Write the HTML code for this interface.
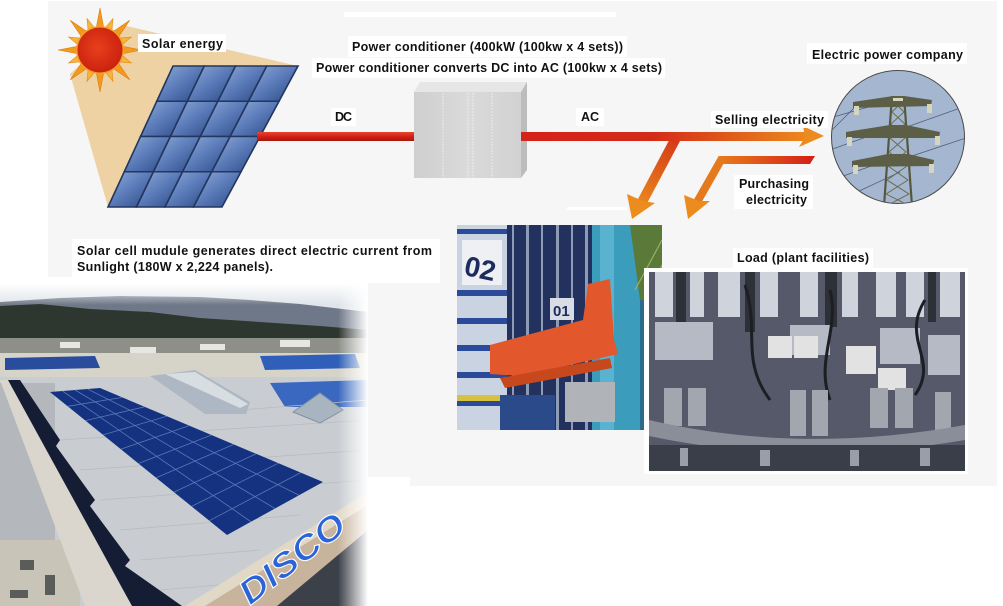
<!DOCTYPE html>
<html><head><meta charset="utf-8"><style>
html,body{margin:0;padding:0;background:#fff;width:1003px;height:606px;overflow:hidden}
svg{display:block}
.t{font-family:"Liberation Sans",Arial,sans-serif;font-weight:bold;font-size:12.5px;fill:#111}
</style></head><body>
<svg width="1003" height="606" viewBox="0 0 1003 606" xmlns="http://www.w3.org/2000/svg">
<defs>
<linearGradient id="dcg" x1="0" y1="0" x2="0" y2="1"><stop offset="0" stop-color="#e8452e"/><stop offset="0.5" stop-color="#d22216"/><stop offset="1" stop-color="#a8160c"/></linearGradient>
<linearGradient id="acg" gradientUnits="userSpaceOnUse" x1="521" y1="0" x2="810" y2="0"><stop offset="0" stop-color="#d42318"/><stop offset="0.45" stop-color="#d42a18"/><stop offset="0.75" stop-color="#e0601a"/><stop offset="1" stop-color="#ec8a1e"/></linearGradient>
<linearGradient id="b1g" gradientUnits="userSpaceOnUse" x1="677" y1="140" x2="640" y2="210"><stop offset="0" stop-color="#d43a18"/><stop offset="1" stop-color="#ec8c1e"/></linearGradient>
<linearGradient id="b2g" gradientUnits="userSpaceOnUse" x1="812" y1="0" x2="700" y2="0"><stop offset="0" stop-color="#d42018"/><stop offset="0.6" stop-color="#e2641a"/><stop offset="1" stop-color="#ec8a1e"/></linearGradient>
<linearGradient id="cell" x1="0" y1="0" x2="1" y2="1"><stop offset="0" stop-color="#93acd8"/><stop offset="0.45" stop-color="#5e7fbc"/><stop offset="1" stop-color="#2a4685"/></linearGradient>
<radialGradient id="sun" cx="0.45" cy="0.45" r="0.6"><stop offset="0" stop-color="#e8401c"/><stop offset="1" stop-color="#c8200e"/></radialGradient>
<linearGradient id="boxg" x1="0" y1="0" x2="1" y2="0"><stop offset="0" stop-color="#cfcfcf"/><stop offset="0.5" stop-color="#dadada"/><stop offset="1" stop-color="#d2d2d2"/></linearGradient>
<linearGradient id="fadeT" x1="0" y1="0" x2="0" y2="1"><stop offset="0" stop-color="#fff" stop-opacity="1"/><stop offset="1" stop-color="#fff" stop-opacity="0"/></linearGradient>
<linearGradient id="fadeR" x1="0" y1="0" x2="1" y2="0"><stop offset="0" stop-color="#fff" stop-opacity="0"/><stop offset="1" stop-color="#fff" stop-opacity="1"/></linearGradient>
<clipPath id="roofclip"><rect x="0" y="283" width="368" height="323"/></clipPath>
<clipPath id="whclip"><rect x="457" y="225" width="205" height="205"/></clipPath>
<clipPath id="mcclip"><rect x="649" y="272" width="316" height="199"/></clipPath>
<clipPath id="circ"><circle cx="898" cy="137" r="66"/></clipPath>
</defs>

<!-- backgrounds -->
<rect x="0" y="0" width="1003" height="606" fill="#fff"/>
<rect x="48" y="1" width="949" height="485" fill="#f6f6f6"/>
<rect x="0" y="277" width="410" height="329" fill="#fff"/>
<rect x="368" y="283" width="42" height="194" fill="#f6f6f6"/>
<rect x="72" y="239" width="368" height="44" fill="#fff"/>
<rect x="344" y="12" width="272" height="5" fill="#fff"/>
<rect x="567" y="207" width="60" height="3" fill="#fff"/>

<!-- beige light cone -->
<polygon points="122,25 298,66 108,207 70,74" fill="#eed2a4"/>

<!-- solar panel -->
<polygon points="173,66 298,66 222,207 108,207" fill="#22365e"/>
<g fill="url(#cell)" stroke="#22365e" stroke-width="1.6">
<polygon points="173,66 204.25,66 187.31,101.25 156.75,101.25"/>
<polygon points="204.25,66 235.5,66 217.88,101.25 187.31,101.25"/>
<polygon points="235.5,66 266.75,66 248.44,101.25 217.88,101.25"/>
<polygon points="266.75,66 298,66 279,101.25 248.44,101.25"/>
<polygon points="156.75,101.25 187.31,101.25 170.38,136.5 140.5,136.5"/>
<polygon points="187.31,101.25 217.88,101.25 200.25,136.5 170.38,136.5"/>
<polygon points="217.88,101.25 248.44,101.25 230.13,136.5 200.25,136.5"/>
<polygon points="248.44,101.25 279,101.25 260,136.5 230.13,136.5"/>
<polygon points="140.5,136.5 170.38,136.5 153.44,171.75 124.25,171.75"/>
<polygon points="170.38,136.5 200.25,136.5 182.63,171.75 153.44,171.75"/>
<polygon points="200.25,136.5 230.13,136.5 211.81,171.75 182.63,171.75"/>
<polygon points="230.13,136.5 260,136.5 241,171.75 211.81,171.75"/>
<polygon points="124.25,171.75 153.44,171.75 136.5,207 108,207"/>
<polygon points="153.44,171.75 182.63,171.75 165,207 136.5,207"/>
<polygon points="182.63,171.75 211.81,171.75 193.5,207 165,207"/>
<polygon points="211.81,171.75 241,171.75 222,207 193.5,207"/>
</g>

<!-- sun -->
<g transform="translate(100,50)">
<g fill="#f29a1e" stroke="#e07a10" stroke-width="0.6">
<polygon points="-4,-21 0,-42 4,-21"/>
<polygon points="-4,-21 0,-42 4,-21" transform="rotate(45)"/>
<polygon points="-4,-21 0,-42 4,-21" transform="rotate(90)"/>
<polygon points="-4,-21 0,-42 4,-21" transform="rotate(135)"/>
<polygon points="-4,-21 0,-42 4,-21" transform="rotate(180)"/>
<polygon points="-4,-21 0,-42 4,-21" transform="rotate(225)"/>
<polygon points="-4,-21 0,-42 4,-21" transform="rotate(270)"/>
<polygon points="-4,-21 0,-42 4,-21" transform="rotate(315)"/>
</g>
<g fill="#f5b43a" stroke="#e08a18" stroke-width="0.6">
<polygon points="-4,-21 0,-34 4,-21" transform="rotate(22.5)"/>
<polygon points="-4,-21 0,-34 4,-21" transform="rotate(67.5)"/>
<polygon points="-4,-21 0,-34 4,-21" transform="rotate(112.5)"/>
<polygon points="-4,-21 0,-34 4,-21" transform="rotate(157.5)"/>
<polygon points="-4,-21 0,-34 4,-21" transform="rotate(202.5)"/>
<polygon points="-4,-21 0,-34 4,-21" transform="rotate(247.5)"/>
<polygon points="-4,-21 0,-34 4,-21" transform="rotate(292.5)"/>
<polygon points="-4,-21 0,-34 4,-21" transform="rotate(337.5)"/>
</g>
<circle r="24" fill="#f3a028"/>
<circle r="22.5" fill="url(#sun)"/>
</g>

<!-- DC line -->
<rect x="257" y="132" width="158" height="9" fill="url(#dcg)"/>

<!-- power conditioner box -->
<polygon points="414,92 420,82 527,82 521,92" fill="#e6e6e6"/>
<polygon points="521,92 527,82 527,170 521,178" fill="#bcbcbc"/>
<rect x="414" y="92" width="107" height="86" fill="url(#boxg)"/>
<g stroke="#ececec" stroke-width="1" stroke-dasharray="2,1">
<line x1="443" y1="93" x2="443" y2="178"/><line x1="468" y1="93" x2="468" y2="178"/>
<line x1="473" y1="93" x2="473" y2="178"/><line x1="492" y1="93" x2="492" y2="178"/>
</g>

<!-- branches (drawn before main line) -->
<line x1="677" y1="136" x2="641" y2="204" stroke="url(#b1g)" stroke-width="10"/>
<polygon points="627,194 643,201 655,203 632,219" fill="#ec8c1e"/>
<polygon points="721,156 815,156 810,164 721,164" fill="url(#b2g)"/>
<polyline points="724,160 721,160 696,204" fill="none" stroke="#e47a1c" stroke-width="8" stroke-linejoin="miter"/>
<polygon points="684,195 699,201 710,201 688,219" fill="#ec8c1e"/>

<!-- AC main line -->
<rect x="521" y="132" width="286" height="9" fill="url(#acg)"/>
<polygon points="803,126 824,136 799,147 805,137" fill="#ec8c20"/>

<!-- power company circle -->
<circle cx="898" cy="137" r="66.5" fill="#a4b6d0" stroke="#4a4a4a" stroke-width="1"/>
<g clip-path="url(#circ)">
<g stroke="#4c5870" stroke-width="0.7">
<line x1="830" y1="118" x2="893" y2="100"/><line x1="830" y1="150" x2="886" y2="130"/>
<line x1="832" y1="180" x2="888" y2="160"/><line x1="840" y1="200" x2="900" y2="172"/>
<line x1="904" y1="128" x2="966" y2="106"/><line x1="906" y1="158" x2="966" y2="138"/>
<line x1="830" y1="132" x2="856" y2="106"/>
</g>
<g stroke="#55583e" stroke-width="2.2" fill="none">
<line x1="892" y1="96" x2="884" y2="206"/><line x1="904" y1="96" x2="912" y2="206"/>
</g>
<g stroke="#6a6c4e" stroke-width="1" fill="none">
<polyline points="892,100 904,112 891,124 905,138 889,152 907,166 887,180 909,194 886,206"/>
<polyline points="904,100 892,112 905,124 890,138 906,152 888,166 908,180 886,194 910,206"/>
</g>
<polygon points="853,102 893,96 904,96 932,100 931,106 853,108" fill="#5c5e46"/>
<polygon points="846,132 890,125 906,125 940,132 939,138 846,138" fill="#5c5e46"/>
<polygon points="852,161 888,154 908,154 934,160 933,166 852,167" fill="#5c5e46"/>
<g fill="#d6d6be">
<rect x="854" y="106" width="5" height="9"/><rect x="927" y="104" width="5" height="9"/>
<rect x="847" y="137" width="5" height="9"/><rect x="935" y="136" width="5" height="9"/>
<rect x="853" y="165" width="5" height="9"/><rect x="929" y="164" width="5" height="9"/>
<rect x="893" y="98" width="10" height="3"/>
</g>
</g>

<!-- warehouse photo -->
<g clip-path="url(#whclip)">
<rect x="457" y="225" width="205" height="205" fill="#22315e"/>
<rect x="457" y="225" width="50" height="205" fill="#c9d3e2"/>
<g fill="#2b4a9a">
<rect x="457" y="229" width="50" height="5"/><rect x="457" y="290" width="50" height="6"/>
<rect x="457" y="318" width="50" height="6"/><rect x="457" y="345" width="50" height="6"/>
<rect x="457" y="372" width="50" height="6"/><rect x="457" y="400" width="50" height="6"/>
</g>
<rect x="462" y="240" width="40" height="45" fill="#eef0f4"/>
<text x="466" y="278" font-family="Liberation Sans,Arial,sans-serif" font-weight="bold" font-size="28" fill="#1c2c5c" transform="rotate(12 480 262)">02</text>
<rect x="457" y="395" width="45" height="6" fill="#d8c040"/>
<g fill="#8d9cb4">
<rect x="512" y="225" width="2" height="205"/><rect x="526" y="225" width="3" height="205"/>
<rect x="541" y="225" width="2" height="205"/><rect x="556" y="225" width="3" height="205"/>
<rect x="571" y="225" width="2" height="205"/><rect x="585" y="225" width="3" height="205"/>
</g>
<rect x="550" y="298" width="24" height="22" fill="#d8dce4"/>
<text x="553" y="316" font-family="Liberation Sans,Arial,sans-serif" font-weight="bold" font-size="15" fill="#1c2c5c">01</text>
<rect x="592" y="225" width="48" height="205" fill="#3c9cbc"/>
<rect x="600" y="225" width="14" height="205" fill="#58b2d0"/>
<polygon points="630,225 662,225 662,300 640,300" fill="#5a7a3a"/>
<g stroke="#9ab060" stroke-width="1.2"><line x1="635" y1="290" x2="662" y2="240"/><line x1="645" y1="300" x2="662" y2="265"/></g>
<rect x="640" y="300" width="22" height="130" fill="#2a6c8c"/>
<polygon points="490,345 583,320 588,284 610,279 614,340 618,354 522,376 490,374" fill="#e2582c"/>
<polygon points="500,378 610,358 612,368 505,388" fill="#c8481e"/>
<rect x="565" y="382" width="50" height="40" fill="#b0b4b8"/>
<rect x="500" y="395" width="55" height="35" fill="#2a4a8a"/>
</g>

<!-- machine photo -->
<rect x="644" y="268" width="324" height="206" fill="#fff"/>
<g clip-path="url(#mcclip)">
<rect x="649" y="272" width="316" height="199" fill="#55596a"/>
<g fill="#cfd3dc">
<rect x="655" y="272" width="18" height="45"/><rect x="690" y="272" width="14" height="45"/>
<rect x="718" y="272" width="22" height="45"/><rect x="760" y="272" width="18" height="45"/>
<rect x="800" y="272" width="18" height="45"/><rect x="842" y="272" width="16" height="45"/>
<rect x="876" y="272" width="20" height="45"/><rect x="906" y="272" width="18" height="45"/>
<rect x="940" y="272" width="20" height="45"/>
</g>
<g fill="#2e3038">
<rect x="676" y="272" width="10" height="50"/><rect x="745" y="272" width="10" height="60"/>
<rect x="825" y="272" width="12" height="55"/><rect x="928" y="272" width="8" height="50"/>
</g>
<g fill="#b6bac4">
<rect x="655" y="322" width="58" height="38"/><rect x="790" y="325" width="40" height="30"/>
<rect x="880" y="328" width="40" height="36"/><rect x="928" y="335" width="32" height="40"/>
</g>
<g fill="#e2e2e2">
<rect x="768" y="336" width="24" height="22"/><rect x="794" y="336" width="24" height="22"/>
<rect x="846" y="346" width="30" height="28"/><rect x="878" y="368" width="28" height="22"/>
</g>
<g stroke="#1c1e24" stroke-width="3" fill="none">
<path d="M745,285 C760,330 740,360 770,400"/><path d="M830,290 C840,330 815,360 830,400"/>
<path d="M925,300 C900,340 940,360 915,395"/>
</g>
<g fill="#a2a6ae">
<rect x="664" y="388" width="18" height="38"/><rect x="688" y="388" width="18" height="38"/>
<rect x="790" y="390" width="16" height="46"/><rect x="812" y="390" width="16" height="46"/>
<rect x="870" y="388" width="18" height="40"/><rect x="895" y="388" width="18" height="40"/>
<rect x="935" y="392" width="16" height="38"/>
</g>
<path d="M649,420 Q800,455 965,425 L965,440 Q800,468 649,436 Z" fill="#8a8e98"/>
<rect x="649" y="445" width="316" height="26" fill="#3a3e48"/>
<g fill="#9a9ea8"><rect x="680" y="448" width="8" height="18"/><rect x="760" y="450" width="10" height="16"/><rect x="850" y="450" width="9" height="16"/><rect x="920" y="448" width="10" height="18"/></g>
</g>

<!-- rooftop photo -->
<g clip-path="url(#roofclip)">
<rect x="0" y="283" width="368" height="323" fill="#c9cdd1"/>
<rect x="0" y="283" width="368" height="30" fill="#dfe4ea"/>
<polygon points="0,330 0,302 60,298 120,296 200,297 250,300 300,304 368,312 368,332" fill="#6f7888"/>
<polygon points="0,350 0,306 40,304 90,309 150,312 200,318 260,322 320,326 368,330 368,350" fill="#2e3630"/>
<rect x="0" y="338" width="368" height="16" fill="#8e9088"/>
<g fill="#e6e6e2"><rect x="130" y="347" width="26" height="14"/><rect x="60" y="342" width="20" height="6"/><rect x="280" y="340" width="30" height="7"/><rect x="200" y="344" width="25" height="6"/></g>
<rect x="0" y="353" width="368" height="24" fill="#d6d3c8"/>
<polygon points="5,358 95,356 100,368 5,370" fill="#2a4c9c"/>
<polygon points="260,356 355,354 360,368 265,370" fill="#2f5fb8"/>
<polygon points="270,383 368,380 368,407 285,407" fill="#3a68c0"/>
<g stroke="#b8bcc2" stroke-width="0.8">
<line x1="60" y1="440" x2="368" y2="420"/><line x1="80" y1="470" x2="368" y2="450"/>
<line x1="100" y1="500" x2="368" y2="480"/><line x1="120" y1="530" x2="300" y2="515"/>
<line x1="140" y1="560" x2="260" y2="550"/><line x1="160" y1="590" x2="230" y2="584"/>
<line x1="240" y1="410" x2="368" y2="400"/>
</g>
<polygon points="150,376 195,370 250,402 246,414 205,414" fill="#aeb8c4"/>
<polygon points="165,374 195,372 248,404 240,408" fill="#d8dde2"/>
<polygon points="293,412 320,393 343,410 320,423" fill="#a8b4c0" stroke="#8090a0" stroke-width="1"/>
<rect x="0" y="383" width="55" height="157" fill="#b4b8bc"/>
<rect x="0" y="540" width="80" height="66" fill="#c8c4b8"/>
<g fill="#5a5c5a"><rect x="20" y="560" width="14" height="10"/><rect x="45" y="575" width="10" height="20"/><rect x="10" y="590" width="18" height="8"/></g>
<polygon points="0,380 8,380 132,606 85,606" fill="#dad6ce"/>
<polygon points="8,380 20,380 60,440 56,446 95,500 90,506 130,560 125,566 182,606 132,606" fill="#151d35"/>
<polygon points="50,392 100,388 323,482 227,535" fill="#14327f"/>
<g stroke="#5a78b8" stroke-width="0.8">
<line x1="62.5" y1="391" x2="251" y2="521.75"/><line x1="75" y1="390" x2="275" y2="508.5"/><line x1="87.5" y1="389" x2="299" y2="495.25"/>
<line x1="67.7" y1="406.3" x2="122.3" y2="397.4"/><line x1="85.4" y1="420.6" x2="144.6" y2="406.8"/>
<line x1="103.1" y1="434.9" x2="166.9" y2="416.2"/><line x1="120.8" y1="449.2" x2="189.2" y2="425.6"/>
<line x1="138.5" y1="463.5" x2="211.5" y2="435"/><line x1="156.2" y1="477.8" x2="233.8" y2="444.4"/>
<line x1="173.9" y1="492.1" x2="256.1" y2="453.8"/><line x1="191.6" y1="506.4" x2="278.4" y2="463.2"/>
<line x1="209.3" y1="520.7" x2="300.7" y2="472.6"/>
</g>
<polygon points="185,606 368,492 368,505 205,606" fill="#e2d8c6"/>
<polygon points="205,606 368,505 368,530 277,606" fill="#c8b49c"/>
<polygon points="277,606 368,530 368,606" fill="#3c4048"/>
<text x="250" y="606" font-family="Liberation Sans,Arial,sans-serif" font-weight="bold" font-style="italic" font-size="34" fill="#2a64d8" stroke="#fff" stroke-width="1" textLength="125" lengthAdjust="spacingAndGlyphs" transform="rotate(-38 250 606)">DISCO</text>
<rect x="0" y="283" width="368" height="22" fill="url(#fadeT)"/>
<rect x="338" y="283" width="30" height="323" fill="url(#fadeR)"/>
</g>

<!-- label backgrounds -->
<g fill="#fff">
<rect x="138" y="34" width="88" height="18"/>
<rect x="348" y="36" width="279" height="21"/>
<rect x="312" y="58" width="353" height="20"/>
<rect x="331" y="108" width="25" height="18"/>
<rect x="576" y="108" width="28" height="18"/>
<rect x="807" y="43" width="160" height="21"/>
<rect x="711" y="111" width="117" height="17"/>
<rect x="734" y="175" width="79" height="34"/>
<rect x="733" y="248" width="140" height="20"/>
</g>

<!-- labels -->
<text class="t" x="142" y="48" textLength="81" lengthAdjust="spacing">Solar energy</text>
<text class="t" x="352" y="51" textLength="271" lengthAdjust="spacing">Power conditioner (400kW (100kw x 4 sets))</text>
<text class="t" x="316" y="72" textLength="346" lengthAdjust="spacing">Power conditioner converts DC into AC (100kw x 4 sets)</text>
<text class="t" x="335" y="121" textLength="17" lengthAdjust="spacing">DC</text>
<text class="t" x="581" y="121" textLength="18" lengthAdjust="spacing">AC</text>
<text class="t" x="812" y="59" textLength="151" lengthAdjust="spacing">Electric power company</text>
<text class="t" x="715" y="124" textLength="109" lengthAdjust="spacing">Selling electricity</text>
<text class="t" x="739" y="188" textLength="70" lengthAdjust="spacing">Purchasing</text>
<text class="t" x="746" y="204" textLength="61" lengthAdjust="spacing">electricity</text>
<text class="t" x="737" y="262" textLength="132" lengthAdjust="spacing">Load (plant facilities)</text>
<text class="t" x="77" y="255" textLength="355" lengthAdjust="spacing">Solar cell mudule generates direct electric current from</text>
<text class="t" x="77" y="271" textLength="196" lengthAdjust="spacing">Sunlight (180W x 2,224 panels).</text>
</svg>
</body></html>
